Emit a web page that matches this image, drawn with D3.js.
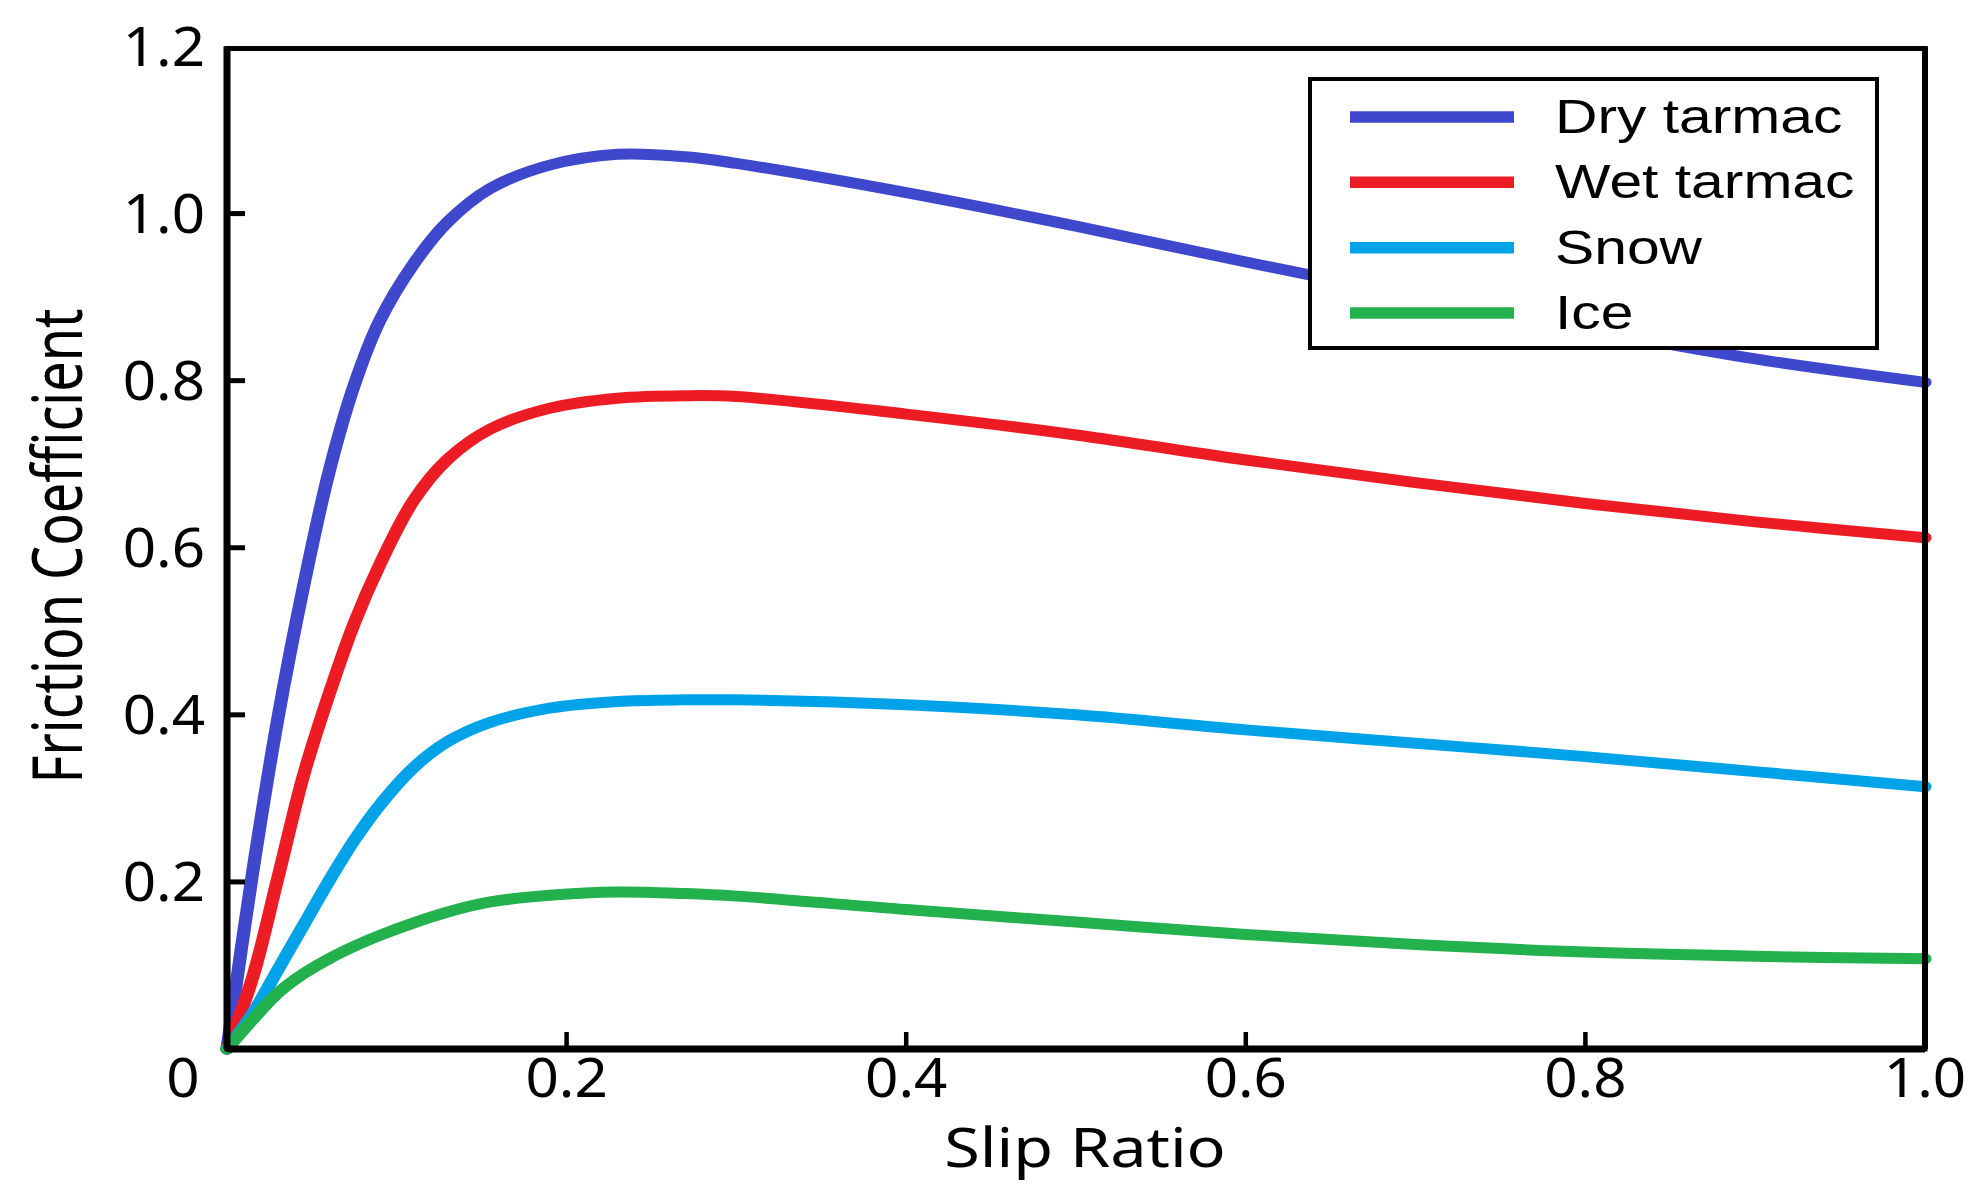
<!DOCTYPE html>
<html>
<head>
<meta charset="utf-8">
<script src="https://cdn.jsdelivr.net/npm/d3@7"></script>
<style>
  body { margin: 0; background: #fff; }
</style>
</head>
<body>
<div id="viz"></div>
<script>
// data
const slip = [0, 0.015, 0.03, 0.045, 0.06, 0.075, 0.09, 0.11, 0.13, 0.155, 0.19, 0.23, 0.27, 0.3, 0.4, 0.5, 0.6, 0.7, 0.8, 0.9, 1.0];
const dryTarmac = [0, 0.21, 0.396, 0.553, 0.69, 0.795, 0.872, 0.94, 0.99, 1.03, 1.058, 1.071, 1.068, 1.06, 1.025, 0.985, 0.942, 0.901, 0.862, 0.826, 0.798];
const wetTarmac = [0, 0.085, 0.205, 0.327, 0.424, 0.51, 0.58, 0.657, 0.706, 0.742, 0.767, 0.779, 0.782, 0.781, 0.76, 0.735, 0.705, 0.678, 0.653, 0.631, 0.612];
const snow = [0, 0.042, 0.095, 0.148, 0.201, 0.25, 0.292, 0.337, 0.368, 0.391, 0.408, 0.416, 0.418, 0.418, 0.412, 0.400, 0.382, 0.366, 0.350, 0.332, 0.314];
const ice = [0, 0.035, 0.067, 0.09, 0.108, 0.123, 0.136, 0.151, 0.164, 0.176, 0.184, 0.188, 0.186, 0.183, 0.167, 0.152, 0.137, 0.125, 0.116, 0.111, 0.108];

const seriesNames = ['Dry tarmac', 'Wet tarmac', 'Snow', 'Ice'];
const seriesValues = [dryTarmac, wetTarmac, snow, ice];
const seriesColors = ['#3f48cc', '#ed1c24', '#00a2e8', '#22b14c'];

const xTicks = [0, 0.2, 0.4, 0.6, 0.8, 1.0];
const xTickLabels = ['0', '0.2', '0.4', '0.6', '0.8', '1.0'];
const yTicks = [0.2, 0.4, 0.6, 0.8, 1.0, 1.2];
const yTickLabels = ['0.2', '0.4', '0.6', '0.8', '1.0', '1.2'];

// layout
const W = 1981, H = 1201;
const plotLeft = 227, plotRight = 1925, plotTop = 46.5, plotBottom = 1049;
const stretch = 1.2; // the picture is a bit wider than tall

const x = d3.scaleLinear().domain([0, 1]).range([plotLeft, plotRight]);
const y = d3.scaleLinear().domain([0, 1.2]).range([plotBottom, plotTop]);
// same scale, used inside the horizontally stretched group
const xs = d3.scaleLinear().domain([0, 1]).range([plotLeft / stretch, plotRight / stretch]);

const svg = d3.select('#viz').append('svg')
  .attr('width', W)
  .attr('height', H);

// curves
const lineGroup = svg.append('g').attr('transform', `scale(${stretch},1)`);
const line = d3.line()
  .x((d, i) => xs(slip[i]))
  .y(d => y(d))
  .curve(d3.curveCatmullRom.alpha(0.5));

seriesValues.forEach((vals, k) => {
  lineGroup.append('path')
    .attr('d', line(vals))
    .attr('fill', 'none')
    .attr('stroke', seriesColors[k])
    .attr('stroke-width', 11)
    .attr('stroke-linecap', 'round')
    .attr('stroke-linejoin', 'round');
});

// frame
svg.append('rect')
  .attr('x', x(0)).attr('y', y(1.2) + 2)
  .attr('width', x(1) - x(0)).attr('height', y(0) - y(1.2) - 2)
  .attr('fill', 'none')
  .attr('stroke', '#000')
  .attr('stroke-width', 5);
svg.append('line')
  .attr('x1', x(0)).attr('x2', x(1))
  .attr('y1', y(0)).attr('y2', y(0))
  .attr('stroke', '#000').attr('stroke-width', 7);
svg.append('line')
  .attr('x1', x(0)).attr('x2', x(0))
  .attr('y1', y(1.2)).attr('y2', y(0))
  .attr('stroke', '#000').attr('stroke-width', 7);
svg.append('line')
  .attr('x1', x(1)).attr('x2', x(1))
  .attr('y1', y(1.2)).attr('y2', y(0))
  .attr('stroke', '#000').attr('stroke-width', 6);

// ticks (inward)
svg.selectAll('.xtick')
  .data(xTicks.slice(1, -1))
  .enter().append('line')
  .attr('x1', d => x(d)).attr('x2', d => x(d))
  .attr('y1', y(0)).attr('y2', y(0) - 17)
  .attr('stroke', '#000').attr('stroke-width', 4.5);

svg.selectAll('.ytick')
  .data(yTicks.slice(0, -1))
  .enter().append('line')
  .attr('x1', x(0)).attr('x2', x(0) + 18)
  .attr('y1', d => y(d)).attr('y2', d => y(d))
  .attr('stroke', '#000').attr('stroke-width', 5);

// tick labels
const tickFont = "'Noto Sans', 'Open Sans', sans-serif";
svg.selectAll('.xlab')
  .data(xTicks)
  .enter().append('text')
  .attr('transform', (d, i) => `translate(${i === 0 ? x(d) - 44 : x(d)},1097) scale(1.08,1)`)
  .attr('text-anchor', 'middle')
  .attr('font-family', tickFont)
  .attr('font-size', 54)
  .attr('fill', '#000')
  .text((d, i) => xTickLabels[i]);

svg.selectAll('.ylab')
  .data(yTicks)
  .enter().append('text')
  .attr('transform', d => `translate(205,${y(d) + 19.5}) scale(1.08,1)`)
  .attr('text-anchor', 'end')
  .attr('font-family', tickFont)
  .attr('font-size', 54)
  .attr('fill', '#000')
  .text((d, i) => yTickLabels[i]);

// axis titles
svg.append('text')
  .attr('transform', `translate(1085,1167) scale(${stretch},1)`)
  .attr('text-anchor', 'middle')
  .attr('font-family', tickFont)
  .attr('font-size', 54)
  .attr('fill', '#000')
  .text('Slip Ratio');

svg.append('text')
  .attr('transform', 'translate(82,546) scale(1.3,1) rotate(-90)')
  .attr('text-anchor', 'middle')
  .attr('font-family', tickFont)
  .attr('font-size', 54)
  .attr('fill', '#000')
  .text('Friction Coefficient');

// legend
const legend = svg.append('g');
legend.append('rect')
  .attr('x', 1310).attr('y', 79)
  .attr('width', 567).attr('height', 269)
  .attr('fill', '#fff')
  .attr('stroke', '#000')
  .attr('stroke-width', 4);

const legendY = d3.scalePoint().domain(seriesNames).range([117, 313]);

legend.selectAll('.lline')
  .data(seriesNames)
  .enter().append('line')
  .attr('x1', 1350).attr('x2', 1514)
  .attr('y1', d => legendY(d)).attr('y2', d => legendY(d))
  .attr('stroke', (d, i) => seriesColors[i])
  .attr('stroke-width', 11.5);

legend.selectAll('.ltext')
  .data(seriesNames)
  .enter().append('text')
  .attr('transform', d => `translate(1555,${legendY(d) + 16}) scale(${stretch},1)`)
  .attr('font-family', "'Liberation Sans', Arial, sans-serif")
  .attr('font-size', 49)
  .attr('fill', '#000')
  .text(d => d);
</script>
</body>
</html>
